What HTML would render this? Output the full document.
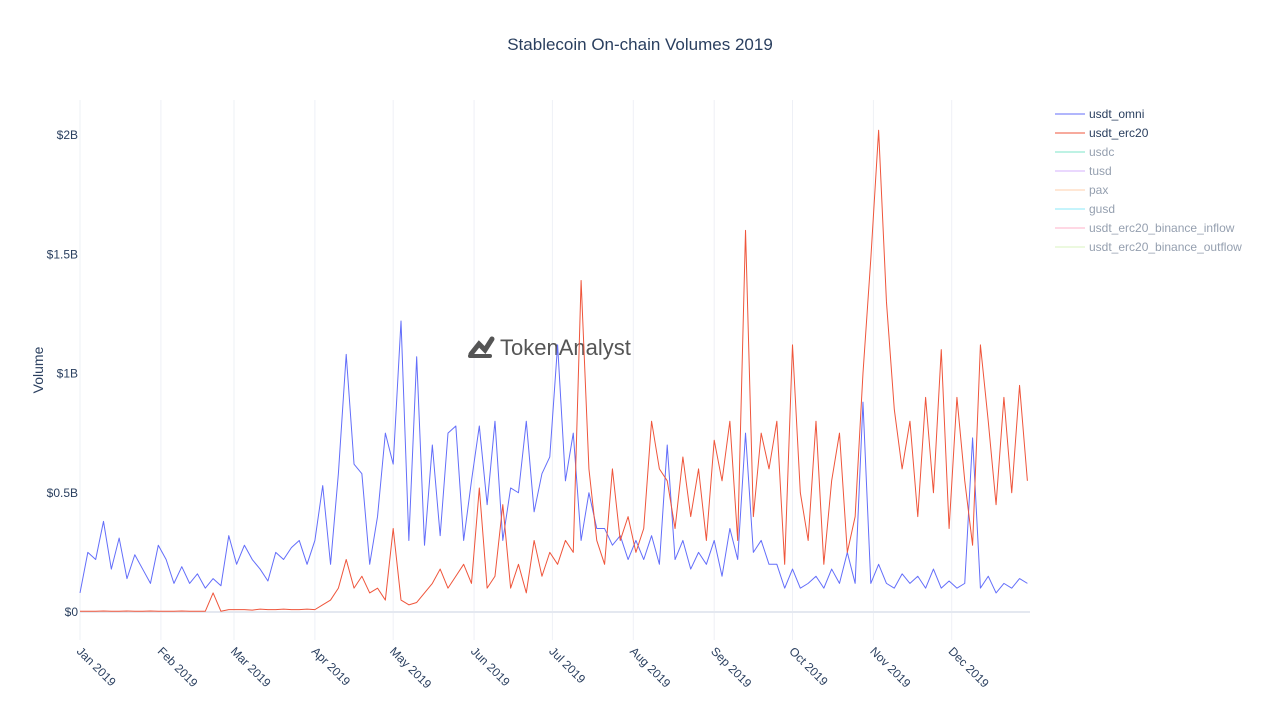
<!DOCTYPE html>
<html><head><meta charset="utf-8"><style>
body{margin:0;background:#fff;font-family:"Liberation Sans",Arial,sans-serif}
svg text{font-family:"Liberation Sans",Arial,sans-serif}
</style></head><body>
<svg id="chart" width="1280" height="720" xmlns="http://www.w3.org/2000/svg">
<text x="640" y="50" text-anchor="middle" font-size="17" fill="#2a3f5f">Stablecoin On-chain Volumes 2019</text>
<text transform="translate(43,370) rotate(-90)" text-anchor="middle" font-size="14" fill="#2a3f5f">Volume</text>
<g id="grid"></g>
<g id="yticks"></g>
<g id="xticks"></g>
<g>
<path d="M471 354 L479 344 L485 350 L492 339" stroke="#555" stroke-width="5" fill="none" stroke-linecap="round"/>
<rect x="468" y="354" width="24" height="4" rx="2" fill="#555"/>
<text x="500" y="355" font-size="22" fill="#555">TokenAnalyst</text>
</g>
<g id="series"></g>
<g id="legend"></g>
</svg>
<script>
const days = [];
for (let d = 0; d <= 363; d += 3) days.push(d);
const usdtOmni = [0.08,0.25,0.22,0.38,0.18,0.31,0.14,0.24,0.18,0.12,0.28,
0.22,0.12,0.19,0.12,0.16,0.1,0.14,0.11,0.32,0.2,
0.28,0.22,0.18,0.13,0.25,0.22,0.27,0.3,0.2,0.3,
0.53,0.2,0.58,1.08,0.62,0.58,0.2,0.4,0.75,0.62,
1.22,0.3,1.07,0.28,0.7,0.32,0.75,0.78,0.3,0.55,
0.78,0.45,0.8,0.3,0.52,0.5,0.8,0.42,0.58,0.65,
1.12,0.55,0.75,0.3,0.5,0.35,0.35,0.28,0.32,0.22,
0.3,0.22,0.32,0.2,0.7,0.22,0.3,0.18,0.25,0.2,
0.3,0.15,0.35,0.22,0.75,0.25,0.3,0.2,0.2,0.1,
0.18,0.1,0.12,0.15,0.1,0.18,0.12,0.25,0.12,0.88,
0.12,0.2,0.12,0.1,0.16,0.12,0.15,0.1,0.18,0.1,
0.13,0.1,0.12,0.73,0.1,0.15,0.08,0.12,0.1,0.14,0.12];
const usdtErc20 = [0.003,0.003,0.003,0.004,0.003,0.003,0.004,0.003,0.003,0.004,0.003,
0.003,0.003,0.004,0.003,0.003,0.003,0.08,0.003,0.01,0.01,
0.01,0.008,0.012,0.01,0.01,0.012,0.01,0.01,0.012,0.01,
0.03,0.05,0.1,0.22,0.1,0.15,0.08,0.1,0.05,0.35,
0.05,0.03,0.04,0.08,0.12,0.18,0.1,0.15,0.2,0.12,
0.52,0.1,0.15,0.45,0.1,0.2,0.08,0.3,0.15,0.25,
0.2,0.3,0.25,1.39,0.6,0.3,0.2,0.6,0.3,0.4,
0.25,0.35,0.8,0.6,0.55,0.35,0.65,0.4,0.6,0.3,
0.72,0.55,0.8,0.3,1.6,0.4,0.75,0.6,0.8,0.2,
1.12,0.5,0.3,0.8,0.2,0.55,0.75,0.25,0.4,1.0,
1.48,2.02,1.3,0.85,0.6,0.8,0.4,0.9,0.5,1.1,
0.35,0.9,0.55,0.28,1.12,0.8,0.45,0.9,0.5,0.95,0.55];
const yTickVals = [0,0.5,1,1.5,2];
const yTickLabels = ["$0","$0.5B","$1B","$1.5B","$2B"];
const monthStarts = [0,31,59,90,120,151,181,212,243,273,304,334];
const monthLabels = ["Jan 2019","Feb 2019","Mar 2019","Apr 2019","May 2019","Jun 2019","Jul 2019","Aug 2019","Sep 2019","Oct 2019","Nov 2019","Dec 2019"];
const legendNames = ["usdt_omni","usdt_erc20","usdc","tusd","pax","gusd","usdt_erc20_binance_inflow","usdt_erc20_binance_outflow"];
const legendColors = ["#636efa","#EF553B","#00cc96","#ab63fa","#FFA15A","#19d3f3","#FF6692","#B6E880"];

const NS="http://www.w3.org/2000/svg";
const x0=80,x1=1030,y0=612,yTop=135;
const xs=d=>x0+(d/364)*(x1-x0);
const ys=v=>y0-(v/2)*(y0-yTop);
function mk(tag,attrs,parent){const e=document.createElementNS(NS,tag);for(const k in attrs)e.setAttribute(k,attrs[k]);parent.appendChild(e);return e;}
const grid=document.getElementById('grid'),yt=document.getElementById('yticks'),xt=document.getElementById('xticks');
mk('rect',{x:x0,y:100,width:x1-x0,height:540,fill:'#fff'},grid);
monthStarts.forEach((d,i)=>{
  const gl=mk('line',{x1:xs(d),x2:xs(d),y1:100,y2:640,stroke:'#eef0f6','stroke-width':1},grid);
  
  
  const t=mk('text',{transform:`translate(${xs(d)-4},${652}) rotate(45)`,'font-size':12,fill:'#2a3f5f'},xt);
  
  
  t.textContent=monthLabels[i];
});
yTickVals.forEach((v,i)=>{
  const t=mk('text',{x:x0-2,y:ys(v)+4,'text-anchor':'end','font-size':12,fill:'#2a3f5f'},yt);
  
  
  t.textContent=yTickLabels[i];
});
const zl=mk('line',{x1:x0,x2:x1,y1:ys(0),y2:ys(0),stroke:'#e4e8f0','stroke-width':2},grid);


const ser=document.getElementById('series');
function line(vals,color,name){
  const p=mk('polyline',{points:vals.map((v,i)=>xs(days[i])+','+ys(v)).join(' '),fill:'none',stroke:color,'stroke-width':1,'stroke-linejoin':'round'},ser);
  
  
}
line(usdtOmni,'#636efa','usdt-omni-line');
line(usdtErc20,'#EF553B','usdt-erc20-line');
const lg=document.getElementById('legend');
legendNames.forEach((n,i)=>{
  const y=114+i*19;
  const g=mk('g',{opacity:i<2?1:0.5,cursor:'pointer'},lg);
  
  
  mk('line',{x1:1055,x2:1085,y1:y,y2:y,stroke:legendColors[i],'stroke-width':1},g);
  const t=mk('text',{x:1089,y:y+4,'font-size':12,fill:'#2a3f5f'},g);
  t.textContent=n;
});
</script>
</body></html>
